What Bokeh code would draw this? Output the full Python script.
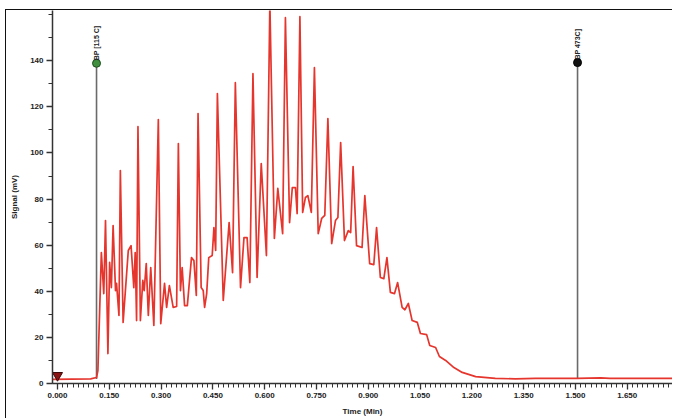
import numpy as np
from bokeh.plotting import figure
from bokeh.models import FixedTicker, NumeralTickFormatter, Range1d
from bokeh.core.properties import value
from bokeh.embed import file_html
from bokeh.resources import INLINE

# Chromatogram trace vertices (time in min, signal in mV)
time_min = [-0.038, 0.096, 0.113, 0.117, 0.127, 0.134, 0.139, 0.146, 0.151, 0.156,
            0.161, 0.168, 0.171, 0.178, 0.182, 0.190, 0.205, 0.213, 0.221, 0.225,
            0.229, 0.233, 0.240, 0.247, 0.251, 0.257, 0.263, 0.270, 0.279, 0.292,
            0.299, 0.310, 0.316, 0.324, 0.335, 0.345, 0.350, 0.356, 0.361, 0.368,
            0.376, 0.388, 0.395, 0.402, 0.407, 0.416, 0.422, 0.426, 0.432, 0.438,
            0.448, 0.453, 0.458, 0.463, 0.480, 0.497, 0.507, 0.515, 0.530, 0.540,
            0.549, 0.557, 0.566, 0.578, 0.590, 0.605, 0.615, 0.628, 0.638, 0.652,
            0.660, 0.672, 0.680, 0.689, 0.694, 0.702, 0.710, 0.718, 0.725, 0.735,
            0.744, 0.755, 0.765, 0.774, 0.783, 0.794, 0.805, 0.812, 0.820, 0.831,
            0.842, 0.849, 0.856, 0.866, 0.882, 0.890, 0.904, 0.916, 0.924, 0.935,
            0.945, 0.954, 0.964, 0.976, 0.985, 0.998, 1.006, 1.016, 1.027, 1.042,
            1.051, 1.069, 1.078, 1.095, 1.106, 1.124, 1.148, 1.172, 1.211, 1.268,
            1.326, 1.384, 1.506, 1.573, 1.600, 1.787]
signal_mv = [1.7, 2.0, 2.6, 5.6, 56.8, 39.0, 70.7, 13.0, 52.5, 41.6,
             68.5, 40.3, 43.4, 29.5, 92.4, 26.5, 57.7, 59.8, 41.6, 56.8,
             27.3, 111.4, 27.3, 44.7, 40.3, 52.0, 29.5, 50.3, 25.2, 114.5,
             26.0, 43.4, 33.0, 42.5, 33.0, 33.4, 104.1, 40.3, 50.3, 33.8,
             33.8, 54.6, 53.3, 38.2, 117.1, 41.6, 40.3, 33.0, 39.0, 54.6,
             55.5, 67.6, 57.7, 125.8, 36.0, 69.8, 48.1, 130.5, 41.6, 63.3,
             63.3, 43.8, 134.4, 46.0, 95.4, 55.5, 165.0, 62.9, 84.6, 65.0,
             158.7, 69.8, 85.0, 85.0, 73.7, 159.1, 74.2, 80.7, 81.5, 74.2,
             137.0, 65.0, 71.6, 72.9, 114.9, 60.7, 70.7, 72.0, 104.5, 62.0,
             66.3, 65.5, 94.1, 59.8, 59.0, 81.5, 52.0, 51.6, 67.6, 46.0,
             45.5, 54.6, 39.5, 39.0, 43.8, 33.0, 32.0, 34.7, 27.3, 26.5,
             21.7, 21.2, 16.5, 15.6, 11.7, 10.0, 6.9, 4.8, 3.0, 2.2,
             2.0, 2.2, 2.2, 2.4, 2.2, 2.2]

# Boiling-point event markers
bp_times = [0.113, 1.506]
bp_top = [138.9, 139.2]
bp_base = [2.0, 2.0]
bp_labels = ["BP [115 C]", "BP 473C]"]
bp_colors = ["#3f8f3f", "#111111"]
bp_outline = ["#1d4d1d", "#000000"]

# Injection marker
start_time = [0.0]
start_signal = [3.5]

# Axis ticks
x_ticks = [0.0, 0.15, 0.30, 0.45, 0.60, 0.75, 0.90, 1.05, 1.20, 1.35, 1.50, 1.65]
y_ticks = [0, 20, 40, 60, 80, 100, 120, 140]

FONT = "Liberation Sans"

p = figure(width=672, height=418, output_backend="svg", toolbar_location=None,
           x_range=Range1d(-0.0145, 1.781), y_range=Range1d(0, 161.8),
           min_border_left=52, min_border_right=0, min_border_top=10, min_border_bottom=35)
p.styles = {"box-shadow": "inset 5px 9px 0 0 #ffffff, inset 6px 10px 0 0 #111111",
            "background-color": "#ffffff"}
p.outline_line_color = None
p.xgrid.visible = False
p.ygrid.visible = False
p.background_fill_color = "white"
p.border_fill_color = None

# event lines
p.segment(x0=bp_times, y0=bp_base, x1=bp_times, y1=bp_top, line_color="#6a6a6a", line_width=1.6)

# trace
p.line(time_min, signal_mv, line_color="#e5352d", line_width=1.7, line_join="round")

# event markers and labels
p.scatter(bp_times, bp_top, marker="circle", size=8, fill_color=bp_colors, line_color=bp_outline, line_width=1)
p.text(x=bp_times, y=bp_top, text=bp_labels, angle=np.pi / 2, text_align="left",
       text_baseline="middle", y_offset=-3, text_font=value(FONT), text_font_style="bold",
       text_font_size="7px", text_color="#222222")

p.scatter(start_time, start_signal, marker="inverted_triangle", size=10,
          fill_color="#8a1414", line_color="#3a0606", line_width=1)

minor_x = list(np.round(np.arange(0, 1.78, 0.015), 4))
minor_y = list(range(0, 161, 10))
p.xaxis.ticker = FixedTicker(ticks=x_ticks, minor_ticks=minor_x)
p.yaxis.ticker = FixedTicker(ticks=y_ticks, minor_ticks=minor_y)
p.xaxis.formatter = NumeralTickFormatter(format="0.000")

for ax in (p.xaxis, p.yaxis):
    ax.axis_line_color = "#333333"
    ax.axis_line_width = 1.5
    ax.major_tick_line_color = "#333333"
    ax.minor_tick_line_color = "#333333"
    ax.major_tick_line_width = 1.3
    ax.minor_tick_line_width = 1
    ax.major_tick_in = 0
    ax.minor_tick_in = 0
    ax.major_label_text_font = FONT
    ax.major_label_text_font_style = "bold"
    ax.major_label_text_font_size = "8px"
    ax.major_label_text_color = "#222222"
    ax.axis_label_text_font = FONT
    ax.axis_label_text_font_style = "bold"
    ax.axis_label_text_font_size = "8px"
    ax.axis_label_text_color = "#222222"

p.xaxis.major_tick_out = 6
p.xaxis.minor_tick_out = 4
p.xaxis.major_label_standoff = 3
p.xaxis.axis_label = "Time (Min)"
p.xaxis.axis_label_standoff = 6

p.yaxis.major_tick_out = 6
p.yaxis.minor_tick_out = 4
p.yaxis.major_label_standoff = 3
p.yaxis.axis_label = "Signal (mV)"
p.yaxis.axis_label_standoff = 8

open("out.html", "w").write(file_html(p, INLINE))
